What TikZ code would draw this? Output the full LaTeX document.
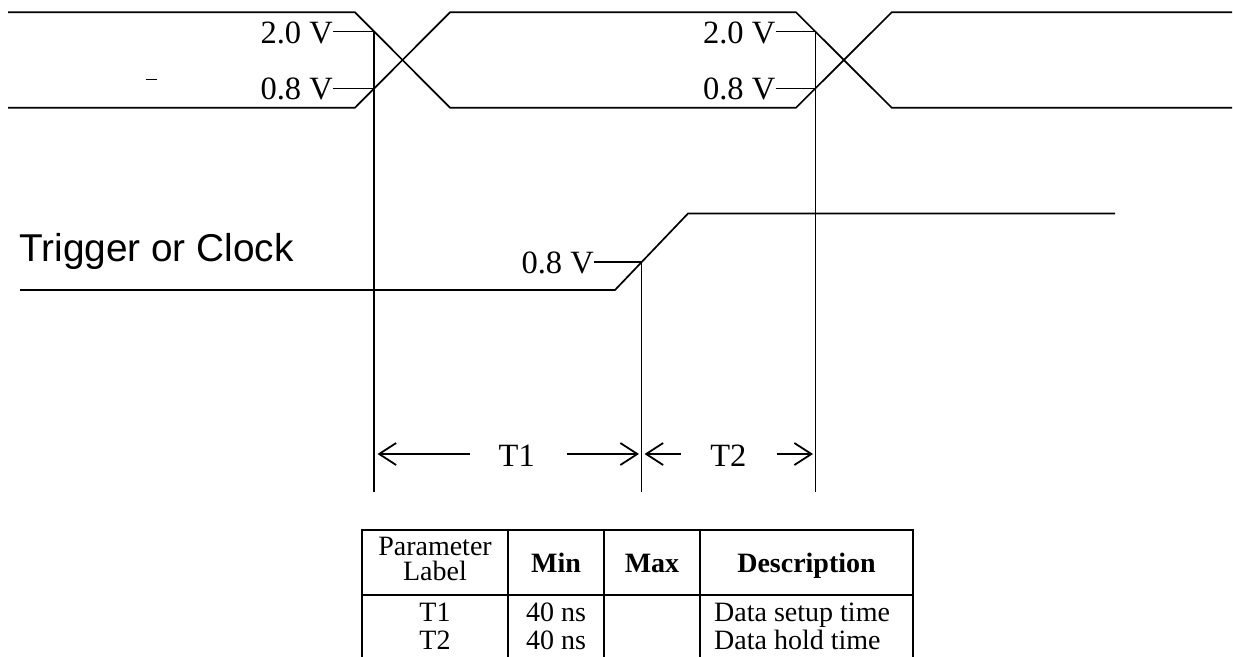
\documentclass[tikz,border=0pt]{standalone}
\usepackage{fontspec}
\setmainfont{Liberation Serif}
\newfontfamily\arialf{Liberation Sans}
\usetikzlibrary{arrows.meta}
\tikzset{
  wave/.style={line width=1.7pt, line join=miter},
  thin/.style={line width=1.5pt},
  tline/.style={line width=2pt},
  lbl/.style={inner sep=0pt, font=\fontsize{32.5}{38}\selectfont},
  tbl/.style={inner sep=0pt, font=\fontsize{28}{30}\selectfont},
  tblb/.style={inner sep=0pt, font=\fontsize{28}{30}\selectfont\bfseries},
  dimarrow/.style={line width=1.8pt, -{Straight Barb[length=17pt,width=22pt,line width=1.8pt]}},
}
\begin{document}
\begin{tikzpicture}[x=1pt,y=-1pt]
\useasboundingbox (0,0) rectangle (1233,656);
% ---- data waveform coordinates
\coordinate (a0) at (8,12.3);
\coordinate (a1) at (355,12.3);
\coordinate (a2) at (450,107.7);
\coordinate (a3) at (796,107.7);
\coordinate (a4) at (891.7,12.3);
\coordinate (a5) at (1232,12.3);
\coordinate (b0) at (8,107.7);
\coordinate (b1) at (355,107.7);
\coordinate (b2) at (450,12.3);
\coordinate (b3) at (796,12.3);
\coordinate (b4) at (891.7,107.7);
\coordinate (b5) at (1232,107.7);
\draw[wave] (a0) -- (a1) -- (a2) -- (a3) -- (a4) -- (a5);
\draw[wave] (b0) -- (b1) -- (b2) -- (b3) -- (b4) -- (b5);
% small dash
\coordinate (d0) at (146,79);
\coordinate (d1) at (157,79);
\draw[line width=1pt] (d0) -- (d1);
% ---- thresholds, first crossing
\node[lbl, anchor=east] (h1) at (333,32.5) {2.0 V};
\node[lbl, anchor=east] (l1) at (333,89) {0.8 V};
\coordinate (v1t) at (374,31.7);
\coordinate (v1l) at (374,88.3);
\coordinate (v1b) at (374,492);
\draw[thin] (h1.east |- v1t) -- (v1t);
\draw[thin] (l1.east |- v1l) -- (v1l);
% ---- thresholds, second crossing
\node[lbl, anchor=east] (h2) at (775.5,32.5) {2.0 V};
\node[lbl, anchor=east] (l2) at (775.5,89) {0.8 V};
\coordinate (v3t) at (815.7,31.7);
\coordinate (v3l) at (815.7,88.3);
\coordinate (v3b) at (815.7,492);
\draw[thin] (h2.east |- v3t) -- (v3t);
\draw[thin] (l2.east |- v3l) -- (v3l);
% ---- trigger waveform
\node[inner sep=0pt, anchor=base west, font=\arialf\fontsize{38.8}{44}\selectfont] (trig) at (19,261.5) {Trigger or Clock};
\coordinate (c0) at (20,290);
\coordinate (c1) at (615,290);
\coordinate (c2) at (688,213.5);
\coordinate (c3) at (1115,213.5);
\draw[wave] (c0) -- (c1) -- (c2) -- (c3);
\node[lbl, anchor=east] (l3) at (594,263) {0.8 V};
\coordinate (v2t) at (641.5,262);
\coordinate (v2b) at (641.5,492);
\draw[thin] (l3.east |- v2t) -- (v2t);
% ---- vertical reference lines
\draw[thin] (v1t) -- (v1b);
\draw[thin] (v2t) -- (v2b);
\draw[thin] (v3t) -- (v3b);
% ---- dimension arrows
\node[lbl] (t1) at (516.7,456) {T1};
\node[lbl] (t2) at (728.3,456) {T2};
\coordinate (p1s) at (470,454);
\coordinate (p1e) at (377.5,454);
\coordinate (p2s) at (566.7,454);
\coordinate (p2e) at (639,454);
\coordinate (p3s) at (680.7,454);
\coordinate (p3e) at (644.5,454);
\coordinate (p4s) at (776.7,454);
\coordinate (p4e) at (813,454);
\draw[dimarrow] (p1s) -- (p1e);
\draw[dimarrow] (p2s) -- (p2e);
\draw[dimarrow] (p3s) -- (p3e);
\draw[dimarrow] (p4s) -- (p4e);
% ---- table
\draw[tline] (362,529.5) -- (913,529.5);
\draw[tline] (362,594.5) -- (913,594.5);
\foreach \x in {362,508,604,700,913} \draw[tline] (\x,528.5) -- (\x,657);
\node[tbl, anchor=base] (hpar) at (435,555) {Parameter};
\node[tbl, anchor=base] (hlab) at (435,580.5) {Label};
\node[tblb, anchor=base] (hmin) at (556,572) {Min};
\node[tblb, anchor=base] (hmax) at (652,572) {Max};
\node[tblb, anchor=base] (hdesc) at (806.5,572) {Description};
\node[tbl, anchor=base] (r1a) at (435,621.5) {T1};
\node[tbl, anchor=base] (r1b) at (556,621.5) {40 ns};
\node[tbl, anchor=base west] (r1d) at (714,621.5) {Data setup time};
\node[tbl, anchor=base] (r2a) at (435,649.5) {T2};
\node[tbl, anchor=base] (r2b) at (556,649.5) {40 ns};
\node[tbl, anchor=base west] (r2d) at (714,649.5) {Data hold time};
\end{tikzpicture}
\end{document}
